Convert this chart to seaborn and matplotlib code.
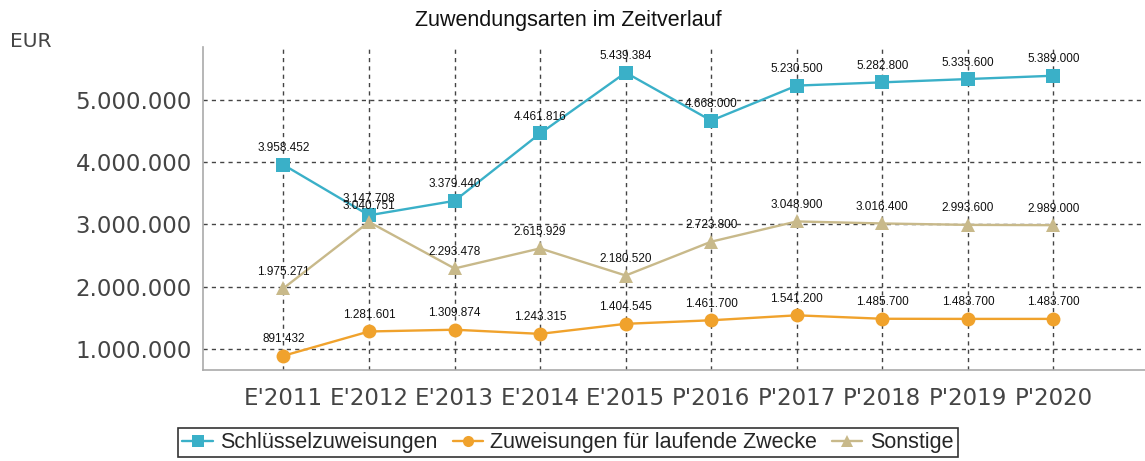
import matplotlib
matplotlib.use("Agg")
import matplotlib.pyplot as plt
import matplotlib.ticker as mticker
import pandas as pd
import seaborn as sns

# ── Data ──────────────────────────────────────────────────────────────────────
YEARS = ["E'2011", "E'2012", "E'2013", "E'2014", "E'2015",
         "P'2016", "P'2017", "P'2018", "P'2019", "P'2020"]
SCHLUESSEL = [3958452, 3147708, 3379440, 4461816, 5439384,
              4668000, 5230500, 5282800, 5335600, 5389000]
LAUFEND = [891432, 1281601, 1309874, 1243315, 1404545,
           1461700, 1541200, 1485700, 1483700, 1483700]
SONSTIGE = [1975271, 3040751, 2293478, 2615929, 2180520,
            2723800, 3048900, 3016400, 2993600, 2989000]

SERIES = ["Schlüsselzuweisungen", "Zuweisungen für laufende Zwecke", "Sonstige"]
COLORS = {SERIES[0]: "#3AB0C8", SERIES[1]: "#F0A22C", SERIES[2]: "#C8B98A"}
MARKERS = {SERIES[0]: "s", SERIES[1]: "o", SERIES[2]: "^"}

df = pd.concat([
    pd.DataFrame({"Jahr": YEARS, "Wert": vals, "Art": name})
    for name, vals in zip(SERIES, [SCHLUESSEL, LAUFEND, SONSTIGE])
], ignore_index=True)
df["x"] = df.groupby("Art").cumcount()


def de_fmt(v, _pos=None):
    return f"{int(round(v)):,}".replace(",", ".")


sns.set_theme(style="white")
plt.rcParams["font.family"] = ["DejaVu Sans"]

fig = plt.figure(figsize=(11.45, 4.61), dpi=100)
ax = fig.add_axes([0.1773, 0.197, 0.8227, 0.701])

sns.lineplot(
    data=df, x="x", y="Wert", hue="Art", style="Art",
    palette=COLORS, markers=MARKERS, dashes=False,
    markersize=10, markeredgewidth=0, linewidth=1.7,
    sort=False, ax=ax, legend=True, zorder=3,
)

# value labels
for _, r in df.iterrows():
    ax.annotate(de_fmt(r["Wert"]), (r["x"], r["Wert"]),
                xytext=(0, 7.5), textcoords="offset points",
                ha="center", va="bottom", fontsize=8.5,
                family="Liberation Sans", color="#111111", zorder=4)

ax.set_xlim(-0.94, 10.07)
ax.set_ylim(660000, 5850000)
ax.set_xticks(range(len(YEARS)))
ax.set_xticklabels(YEARS)
ax.set_yticks([1000000, 2000000, 3000000, 4000000, 5000000])
ax.yaxis.set_major_formatter(mticker.FuncFormatter(de_fmt))
ax.tick_params(axis="y", labelsize=16.5, colors="#444444", length=6,
               width=0.8, pad=2)
ax.tick_params(axis="x", labelsize=16.5, colors="#444444", length=7,
               width=0.8, pad=5)

ax.grid(True, linestyle=(0, (3, 3)), color="#444444", linewidth=1)
ax.set_axisbelow(True)
for s in ["top", "right"]:
    ax.spines[s].set_visible(False)
for s in ["left", "bottom"]:
    ax.spines[s].set_color("#aaaaaa")
    ax.spines[s].set_linewidth(1.2)
ax.set_xlabel("")
ax.set_ylabel("")

fig.text(0.009, 0.89, "EUR", fontsize=14.5, color="#444444",
         ha="left", va="bottom")
fig.text(0.496, 0.955, "Zuwendungsarten im Zeitverlauf", fontsize=15.5,
         family="Liberation Sans", color="#111111", ha="center", va="center")

handles, labels = ax.get_legend_handles_labels()
ax.get_legend().remove()
for h in handles:
    h.set_markersize(8)
leg = fig.legend(handles, labels, loc="center", bbox_to_anchor=(0.496, 0.04),
                 ncol=3, frameon=True, fancybox=False, handlelength=1.4,
                 handletextpad=0.35, columnspacing=0.7, borderpad=0.2,
                 prop={"family": "Liberation Sans", "size": 15.5})
leg.get_frame().set_edgecolor("#000000")
leg.get_frame().set_linewidth(1.2)

fig.savefig("out.png", dpi=100)
